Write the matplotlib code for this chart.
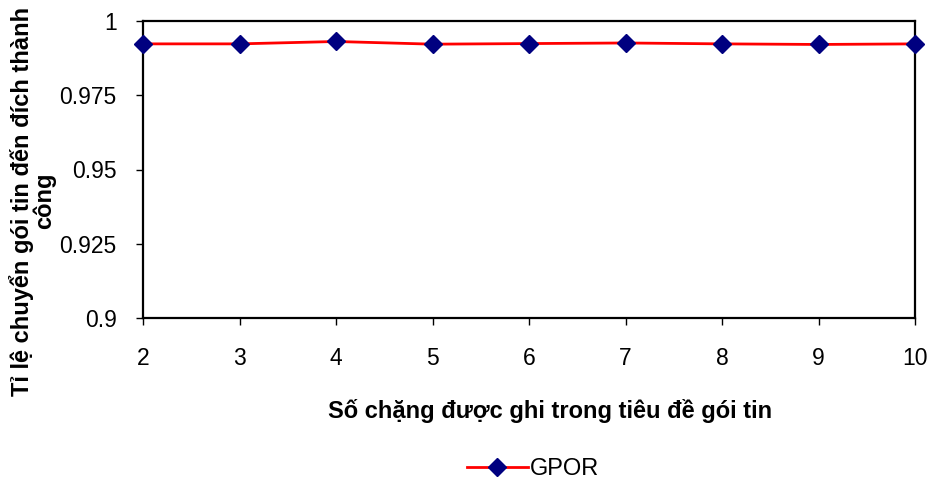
import matplotlib
matplotlib.use("Agg")
import matplotlib.pyplot as plt

plt.rcParams['font.family'] = ['Liberation Sans', 'DejaVu Sans']

hops = [2, 3, 4, 5, 6, 7, 8, 9, 10]
gpor = [0.9923, 0.9923, 0.9931, 0.9922, 0.9924, 0.9926, 0.9923, 0.9921, 0.9923]
yticks = [0.9, 0.925, 0.95, 0.975, 1.0]
ytick_labels = ["0.9", "0.925", "0.95", "0.975", "1"]

fig = plt.figure(figsize=(9.31, 4.84), dpi=100)
ax = fig.add_axes([143/931, 1-318/484, (915-143)/931, (318-21)/484])

ax.plot(hops, gpor, color='#ff0000', linewidth=2, marker='D', markersize=9,
        markerfacecolor='#000080', markeredgecolor='#000080', label='GPOR',
        clip_on=False, zorder=5)

ax.set_xlim(2, 10)
ax.set_ylim(0.9, 1.0)
ax.set_xticks(hops)
ax.set_xticklabels([str(h) for h in hops], fontsize=16.5)
ax.set_yticks(yticks)
ax.set_yticklabels(ytick_labels, fontsize=16.5)
ax.tick_params(axis='both', direction='out', length=5, width=1, color='black')
ax.tick_params(axis='y', pad=14)
ax.tick_params(axis='x', pad=16)
for s in ax.spines.values():
    s.set_linewidth(1.6)
    s.set_color('black')

fig.text(550/931, 1-411/484, "Số chặng được ghi trong tiêu đề gói tin", ha='center', va='center',
         fontsize=17, fontweight='bold')
fig.text(0.035, 1-201/484, "Tỉ lệ chuyển gói tin đến đích thành\ncông", rotation=90,
         ha='center', va='center', fontsize=17, fontweight='bold', multialignment='center',
         linespacing=0.9)

leg = fig.legend(loc='center', bbox_to_anchor=(533/931, 1-469/484), frameon=False,
                 fontsize=17, handlelength=2.6, handletextpad=0.1)

fig.savefig("out.png", dpi=100)
